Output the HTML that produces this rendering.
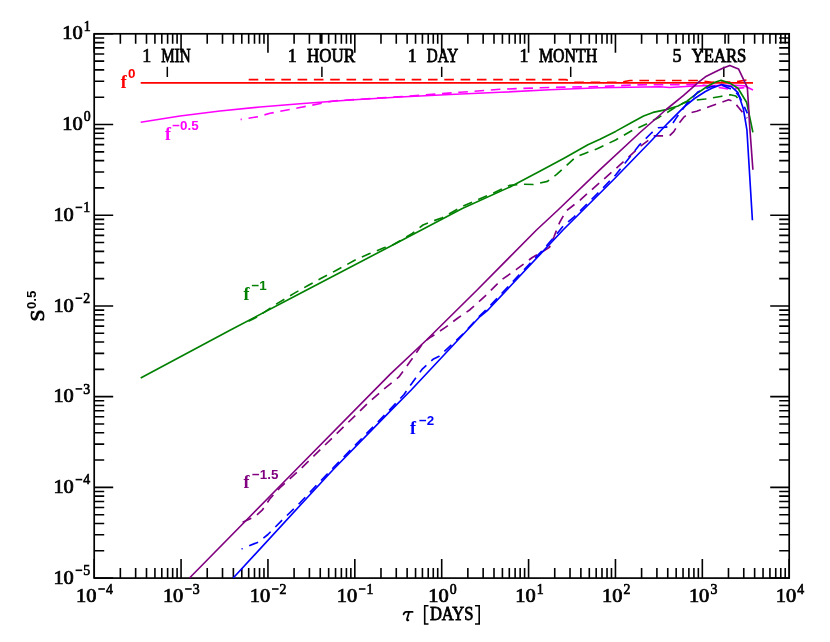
<!DOCTYPE html>
<html><head><meta charset="utf-8"><title>chart</title>
<style>
html,body{margin:0;padding:0;background:#fff;}
body{width:830px;height:642px;overflow:hidden;}
svg{display:block;will-change:transform;}
text{font-family:"Liberation Serif",serif;fill:#000;}
.ax{font-size:18px;stroke:#000;stroke-width:0.7px;}
.wd{font-size:18.5px;stroke:#000;stroke-width:0.8px;}
.sup{font-size:14px;stroke:#000;stroke-width:0.65px;}
.lab{font-size:18px;font-weight:bold;}
.lsup{font-size:13.4px;font-weight:bold;font-family:"Liberation Sans",sans-serif;}
.c{fill:none;stroke-width:1.65;stroke-linejoin:round;}
.d{stroke-dasharray:9.6 6.7;}
</style></head><body>
<svg width="830" height="642" viewBox="0 0 830 642">
<rect width="830" height="642" fill="#fff"/>
<path d="M94.20 578.1v-19M94.20 33.8v19M120.35 578.1v-10M120.35 33.8v10M135.65 578.1v-10M135.65 33.8v10M146.50 578.1v-10M146.50 33.8v10M154.92 578.1v-10M154.92 33.8v10M161.80 578.1v-10M161.80 33.8v10M167.62 578.1v-10M167.62 33.8v10M172.66 578.1v-10M172.66 33.8v10M177.10 578.1v-10M177.10 33.8v10M181.07 578.1v-19M181.07 33.8v19M207.23 578.1v-10M207.23 33.8v10M222.52 578.1v-10M222.52 33.8v10M233.38 578.1v-10M233.38 33.8v10M241.80 578.1v-10M241.80 33.8v10M248.68 578.1v-10M248.68 33.8v10M254.49 578.1v-10M254.49 33.8v10M259.53 578.1v-10M259.53 33.8v10M263.97 578.1v-10M263.97 33.8v10M267.95 578.1v-19M267.95 33.8v19M294.10 578.1v-10M294.10 33.8v10M309.40 578.1v-10M309.40 33.8v10M320.25 578.1v-10M320.25 33.8v10M328.67 578.1v-10M328.67 33.8v10M335.55 578.1v-10M335.55 33.8v10M341.37 578.1v-10M341.37 33.8v10M346.41 578.1v-10M346.41 33.8v10M350.85 578.1v-10M350.85 33.8v10M354.82 578.1v-19M354.82 33.8v19M380.98 578.1v-10M380.98 33.8v10M396.27 578.1v-10M396.27 33.8v10M407.13 578.1v-10M407.13 33.8v10M415.55 578.1v-10M415.55 33.8v10M422.43 578.1v-10M422.43 33.8v10M428.24 578.1v-10M428.24 33.8v10M433.28 578.1v-10M433.28 33.8v10M437.72 578.1v-10M437.72 33.8v10M441.70 578.1v-19M441.70 33.8v19M467.85 578.1v-10M467.85 33.8v10M483.15 578.1v-10M483.15 33.8v10M494.00 578.1v-10M494.00 33.8v10M502.42 578.1v-10M502.42 33.8v10M509.30 578.1v-10M509.30 33.8v10M515.12 578.1v-10M515.12 33.8v10M520.16 578.1v-10M520.16 33.8v10M524.60 578.1v-10M524.60 33.8v10M528.58 578.1v-19M528.58 33.8v19M554.73 578.1v-10M554.73 33.8v10M570.02 578.1v-10M570.02 33.8v10M580.88 578.1v-10M580.88 33.8v10M589.30 578.1v-10M589.30 33.8v10M596.18 578.1v-10M596.18 33.8v10M601.99 578.1v-10M601.99 33.8v10M607.03 578.1v-10M607.03 33.8v10M611.47 578.1v-10M611.47 33.8v10M615.45 578.1v-19M615.45 33.8v19M641.60 578.1v-10M641.60 33.8v10M656.90 578.1v-10M656.90 33.8v10M667.75 578.1v-10M667.75 33.8v10M676.17 578.1v-10M676.17 33.8v10M683.05 578.1v-10M683.05 33.8v10M688.87 578.1v-10M688.87 33.8v10M693.91 578.1v-10M693.91 33.8v10M698.35 578.1v-10M698.35 33.8v10M702.33 578.1v-19M702.33 33.8v19M728.48 578.1v-10M728.48 33.8v10M743.77 578.1v-10M743.77 33.8v10M754.63 578.1v-10M754.63 33.8v10M763.05 578.1v-10M763.05 33.8v10M769.93 578.1v-10M769.93 33.8v10M775.74 578.1v-10M775.74 33.8v10M780.78 578.1v-10M780.78 33.8v10M785.22 578.1v-10M785.22 33.8v10M789.20 578.1v-19M789.20 33.8v19M321.79 33.8v10M725.04 33.8v10M94.2 578.10h19M789.2 578.10h-19M94.2 550.79h10M789.2 550.79h-10M94.2 534.82h10M789.2 534.82h-10M94.2 523.48h10M789.2 523.48h-10M94.2 514.69h10M789.2 514.69h-10M94.2 507.51h10M789.2 507.51h-10M94.2 501.44h10M789.2 501.44h-10M94.2 496.17h10M789.2 496.17h-10M94.2 491.53h10M789.2 491.53h-10M94.2 487.38h19M789.2 487.38h-19M94.2 460.07h10M789.2 460.07h-10M94.2 444.10h10M789.2 444.10h-10M94.2 432.77h10M789.2 432.77h-10M94.2 423.98h10M789.2 423.98h-10M94.2 416.79h10M789.2 416.79h-10M94.2 410.72h10M789.2 410.72h-10M94.2 405.46h10M789.2 405.46h-10M94.2 400.82h10M789.2 400.82h-10M94.2 396.67h19M789.2 396.67h-19M94.2 369.36h10M789.2 369.36h-10M94.2 353.38h10M789.2 353.38h-10M94.2 342.05h10M789.2 342.05h-10M94.2 333.26h10M789.2 333.26h-10M94.2 326.08h10M789.2 326.08h-10M94.2 320.00h10M789.2 320.00h-10M94.2 314.74h10M789.2 314.74h-10M94.2 310.10h10M789.2 310.10h-10M94.2 305.95h19M789.2 305.95h-19M94.2 278.64h10M789.2 278.64h-10M94.2 262.67h10M789.2 262.67h-10M94.2 251.33h10M789.2 251.33h-10M94.2 242.54h10M789.2 242.54h-10M94.2 235.36h10M789.2 235.36h-10M94.2 229.29h10M789.2 229.29h-10M94.2 224.02h10M789.2 224.02h-10M94.2 219.38h10M789.2 219.38h-10M94.2 215.23h19M789.2 215.23h-19M94.2 187.92h10M789.2 187.92h-10M94.2 171.95h10M789.2 171.95h-10M94.2 160.62h10M789.2 160.62h-10M94.2 151.83h10M789.2 151.83h-10M94.2 144.64h10M789.2 144.64h-10M94.2 138.57h10M789.2 138.57h-10M94.2 133.31h10M789.2 133.31h-10M94.2 128.67h10M789.2 128.67h-10M94.2 124.52h19M789.2 124.52h-19M94.2 97.21h10M789.2 97.21h-10M94.2 81.23h10M789.2 81.23h-10M94.2 69.90h10M789.2 69.90h-10M94.2 61.11h10M789.2 61.11h-10M94.2 53.93h10M789.2 53.93h-10M94.2 47.85h10M789.2 47.85h-10M94.2 42.59h10M789.2 42.59h-10M94.2 37.95h10M789.2 37.95h-10M94.2 33.80h19M789.2 33.80h-19" stroke="#000" stroke-width="1.6" fill="none"/>
<rect x="94.2" y="33.8" width="695.00" height="544.30" fill="none" stroke="#000" stroke-width="1.7"/>
<text class="ax" x="76.1" y="602.3" textLength="20.4" lengthAdjust="spacingAndGlyphs">10</text><path d="M98.3 589.0h6.6" stroke="#000" stroke-width="1.6"/><text class="sup" x="105.9" y="593.6" textLength="6.9" lengthAdjust="spacingAndGlyphs">4</text>
<text class="ax" x="162.9" y="602.3" textLength="20.4" lengthAdjust="spacingAndGlyphs">10</text><path d="M185.1 589.0h6.6" stroke="#000" stroke-width="1.6"/><text class="sup" x="192.7" y="593.6" textLength="6.9" lengthAdjust="spacingAndGlyphs">3</text>
<text class="ax" x="249.8" y="602.3" textLength="20.4" lengthAdjust="spacingAndGlyphs">10</text><path d="M272.0 589.0h6.6" stroke="#000" stroke-width="1.6"/><text class="sup" x="279.6" y="593.6" textLength="6.9" lengthAdjust="spacingAndGlyphs">2</text>
<text class="ax" x="336.7" y="602.3" textLength="20.4" lengthAdjust="spacingAndGlyphs">10</text><path d="M358.9 589.0h6.6" stroke="#000" stroke-width="1.6"/><text class="sup" x="366.5" y="593.6" textLength="6.9" lengthAdjust="spacingAndGlyphs">1</text>
<text class="ax" x="428.3" y="602.3" textLength="20.4" lengthAdjust="spacingAndGlyphs">10</text><text class="sup" x="449.8" y="593.6" textLength="6.9" lengthAdjust="spacingAndGlyphs">0</text>
<text class="ax" x="515.2" y="602.3" textLength="20.4" lengthAdjust="spacingAndGlyphs">10</text><text class="sup" x="536.7" y="593.6" textLength="6.9" lengthAdjust="spacingAndGlyphs">1</text>
<text class="ax" x="602.1" y="602.3" textLength="20.4" lengthAdjust="spacingAndGlyphs">10</text><text class="sup" x="623.6" y="593.6" textLength="6.9" lengthAdjust="spacingAndGlyphs">2</text>
<text class="ax" x="688.9" y="602.3" textLength="20.4" lengthAdjust="spacingAndGlyphs">10</text><text class="sup" x="710.4" y="593.6" textLength="6.9" lengthAdjust="spacingAndGlyphs">3</text>
<text class="ax" x="775.8" y="602.3" textLength="20.4" lengthAdjust="spacingAndGlyphs">10</text><text class="sup" x="797.3" y="593.6" textLength="6.9" lengthAdjust="spacingAndGlyphs">4</text>
<text class="ax" x="53.4" y="583.6" textLength="20.4" lengthAdjust="spacingAndGlyphs">10</text><path d="M75.6 570.3h6.6" stroke="#000" stroke-width="1.6"/><text class="sup" x="83.2" y="574.9" textLength="6.9" lengthAdjust="spacingAndGlyphs">5</text>
<text class="ax" x="53.4" y="492.9" textLength="20.4" lengthAdjust="spacingAndGlyphs">10</text><path d="M75.6 479.6h6.6" stroke="#000" stroke-width="1.6"/><text class="sup" x="83.2" y="484.2" textLength="6.9" lengthAdjust="spacingAndGlyphs">4</text>
<text class="ax" x="53.4" y="402.2" textLength="20.4" lengthAdjust="spacingAndGlyphs">10</text><path d="M75.6 388.9h6.6" stroke="#000" stroke-width="1.6"/><text class="sup" x="83.2" y="393.5" textLength="6.9" lengthAdjust="spacingAndGlyphs">3</text>
<text class="ax" x="53.4" y="311.5" textLength="20.4" lengthAdjust="spacingAndGlyphs">10</text><path d="M75.6 298.2h6.6" stroke="#000" stroke-width="1.6"/><text class="sup" x="83.2" y="302.8" textLength="6.9" lengthAdjust="spacingAndGlyphs">2</text>
<text class="ax" x="53.4" y="220.7" textLength="20.4" lengthAdjust="spacingAndGlyphs">10</text><path d="M75.6 207.4h6.6" stroke="#000" stroke-width="1.6"/><text class="sup" x="83.2" y="212.0" textLength="6.9" lengthAdjust="spacingAndGlyphs">1</text>
<text class="ax" x="62.3" y="130.0" textLength="20.4" lengthAdjust="spacingAndGlyphs">10</text><text class="sup" x="83.8" y="121.3" textLength="6.9" lengthAdjust="spacingAndGlyphs">0</text>
<text class="ax" x="62.3" y="39.3" textLength="20.4" lengthAdjust="spacingAndGlyphs">10</text><text class="sup" x="83.8" y="30.6" textLength="6.9" lengthAdjust="spacingAndGlyphs">1</text>
<path d="M403.6 614.3C404.1 612.7 404.9 611.9 406.3 611.9H412.6M409.1 611.9L407 619.2C406.8 620.2 407.4 620.5 408.4 620.1" fill="none" stroke="#000" stroke-width="1.75" stroke-linecap="round" stroke-linejoin="round"/>
<path d="M428.5 605.7H424.7V624H428.5M475 605.7H479.2V624H475" fill="none" stroke="#000" stroke-width="1.6"/>
<text class="wd" x="429.9" y="620.4" textLength="43.5" lengthAdjust="spacingAndGlyphs">DAYS</text>
<g transform="translate(43.6,321.4) rotate(-90)"><text class="wd" x="0" y="0" transform="scale(1.2,1)" style="font-size:17.8px">S</text><text class="lsup" x="12.3" y="-7.5" style="font-size:13.2px">0.5</text></g>
<text class="ax" x="142.2" y="61.7">1</text><text class="wd" x="161.3" y="61.7" textLength="29.3" lengthAdjust="spacingAndGlyphs">MIN</text>
<path d="M167.3 66.8v10.2" stroke="#000" stroke-width="1.5"/>
<text class="ax" x="287.7" y="61.7">1</text><text class="wd" x="307.0" y="61.7" textLength="48.1" lengthAdjust="spacingAndGlyphs">HOUR</text>
<path d="M321.9 66.8v10.2" stroke="#000" stroke-width="1.5"/>
<text class="ax" x="407.7" y="61.7">1</text><text class="wd" x="426.8" y="61.7" textLength="31.5" lengthAdjust="spacingAndGlyphs">DAY</text>
<path d="M441.7 66.8v10.2" stroke="#000" stroke-width="1.5"/>
<text class="ax" x="519.4" y="61.7">1</text><text class="wd" x="538.9" y="61.7" textLength="58.3" lengthAdjust="spacingAndGlyphs">MONTH</text>
<path d="M570.7 66.8v10.2" stroke="#000" stroke-width="1.5"/>
<text class="ax" x="672.6" y="61.7">5</text><text class="wd" x="691.7" y="61.7" textLength="54.6" lengthAdjust="spacingAndGlyphs">YEARS</text>
<path d="M723.8 66.8v10.2" stroke="#000" stroke-width="1.5"/>
<polyline class="c" stroke="#ff0000" points="140.7,82.8 753.0,82.8"/>
<polyline class="c d" stroke="#ff0000" points="248.7,79.6 565.8,79.6 575.0,82.2 621.0,82.2 630.0,80.5 699.0,80.5 712.0,82.2 735.0,82.0 746.7,79.9"/>
<polyline class="c" stroke="#ff00ff" points="140.7,122.3 180.0,116.0 220.0,111.0 260.0,107.0 300.0,103.7 350.0,100.0 400.0,97.0 450.0,94.5 500.0,92.3 550.0,89.8 600.0,87.8 660.0,86.8 669.4,87.5 690.0,86.2 710.0,85.5 735.0,85.4 744.3,85.8 753.0,90.0"/>
<polyline class="c d" stroke="#ff00ff" points="248.5,118.3 258.6,116.6 270.0,113.3 300.0,107.5 333.0,101.0 421.0,95.3 460.0,92.3 500.0,89.3 540.0,87.8 565.0,87.1 590.0,86.8 640.0,84.8 700.0,84.6 720.5,87.8 729.8,89.2 745.0,87.5"/>
<path class="c" stroke="#ff00ff" d="M240.6 119.4h1.2"/>
<polyline class="c" stroke="#008000" points="140.7,378.0 230.0,330.2 300.0,293.6 400.0,241.2 462.3,208.5 510.0,186.9 541.2,170.5 564.5,158.0 587.9,144.8 600.0,139.2 615.6,131.4 631.2,122.8 643.6,116.0 653.0,112.4 666.2,109.6 678.1,106.0 686.9,101.1 696.7,93.6 707.6,86.3 715.0,82.3 721.1,80.2 730.3,83.4 738.0,88.3 746.7,102.5 752.9,132.3"/>
<polyline class="c d" stroke="#008000" points="248.5,321.3 256.0,317.5 264.0,312.4 277.4,303.4 293.6,293.6 308.0,285.5 321.7,278.0 336.0,270.5 354.7,260.3 369.7,253.6 384.6,247.6 394.0,244.3 404.8,237.9 412.3,233.4 423.0,225.0 434.0,220.7 442.2,217.7 462.3,206.5 493.5,193.0 510.0,185.3 522.5,184.2 533.4,184.5 547.4,181.4 556.7,174.4 566.1,165.8 575.4,157.3 584.8,153.4 597.2,148.7 615.6,140.0 631.2,131.0 646.5,124.0 659.6,116.9 667.2,112.5 674.9,107.6 683.6,102.9 696.7,100.0 705.4,99.0 720.5,96.5 730.3,94.7 735.8,96.0 739.5,100.0"/>
<polyline class="c" stroke="#800080" points="189.5,578.0 295.7,470.0 390.0,374.4 426.5,340.0 476.6,290.5 536.5,230.0 558.0,210.0 600.0,169.6 640.0,132.5 666.2,109.5 683.6,95.4 698.9,81.8 705.4,76.8 712.9,73.1 722.7,68.2 729.8,65.4 738.5,68.9 747.3,87.3 748.4,103.6 749.6,125.0 752.9,169.7"/>
<polyline class="c d" stroke="#800080" points="242.6,522.3 254.8,516.7 262.2,510.2 269.7,499.0 280.9,486.8 299.3,470.2 336.7,433.6 367.9,403.2 383.1,389.8 398.7,377.2 411.2,360.1 423.6,342.2 431.4,336.7 445.4,327.4 457.9,318.0 470.0,309.7 485.6,295.7 501.2,280.1 516.7,269.2 532.3,257.5 541.7,252.1 549.4,247.4 554.1,236.5 559.6,222.5 566.1,211.0 580.1,200.1 594.1,187.6 615.6,168.8 640.5,146.2 654.5,135.8 669.4,135.9 673.8,131.6 678.1,124.5 683.6,117.4 689.0,113.1 696.7,111.2 711.8,105.8 728.7,99.8 733.6,101.4 739.0,108.0 747.2,118.3"/>
<polyline class="c" stroke="#0000ff" points="233.2,578.0 300.0,505.5 332.8,470.0 390.0,411.3 411.2,390.0 480.0,316.5 487.9,310.0 563.0,230.0 613.2,180.0 652.0,140.0 667.2,123.8 683.6,107.3 694.5,98.5 705.4,91.5 711.8,88.3 721.6,84.5 731.4,86.7 738.0,92.7 743.4,109.0 746.9,129.8 752.4,220.3"/>
<polyline class="c d" stroke="#0000ff" points="249.2,545.7 258.5,542.0 267.9,534.5 280.9,521.4 300.0,502.8 332.0,469.0 389.0,410.5 404.0,394.5 411.2,384.2 422.0,369.4 433.0,359.3 439.2,356.2 448.5,347.6 462.6,334.4 480.0,315.5 487.0,309.0 546.0,246.5 557.2,233.4 563.5,225.6 573.9,217.2 600.0,191.0 615.6,175.0 639.0,145.4 651.4,133.0 658.0,127.8 666.2,127.2 672.7,123.4 677.0,116.9 685.8,104.9 697.8,92.0 710.0,87.0 722.0,85.2 734.4,90.5 739.9,97.1 747.4,113.4"/>
<path class="c" stroke="#0000ff" d="M241.5 548.7h1.2"/>
<text class="lab" x="120.8" y="87.6" style="fill:#ff0000">f</text><text class="lsup" x="128" y="78.4" style="fill:#ff0000">0</text>
<text class="lab" x="165" y="139.6" style="fill:#ff00ff">f</text><text class="lsup" x="172.3" y="130.2" style="fill:#ff00ff">−0.5</text>
<text class="lab" x="243.5" y="299.7" style="fill:#008000">f</text><text class="lsup" x="251.5" y="290.3" style="fill:#008000">−1</text>
<text class="lab" x="243.5" y="487.5" style="fill:#800080">f</text><text class="lsup" x="252" y="479.1" style="fill:#800080">−1.5</text>
<text class="lab" x="410" y="434.2" style="fill:#0000ff">f</text><text class="lsup" x="419" y="424.9" style="fill:#0000ff">−2</text>
</svg>
</body></html>
